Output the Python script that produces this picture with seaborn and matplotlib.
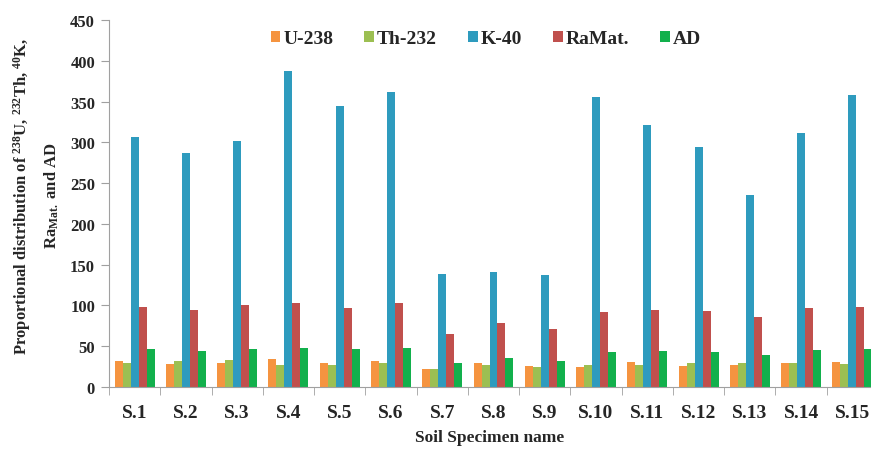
import numpy as np
import pandas as pd
import seaborn as sns
import matplotlib
matplotlib.use("Agg")
from matplotlib import pyplot as plt

# data
specimens = ["S.1", "S.2", "S.3", "S.4", "S.5", "S.6", "S.7", "S.8",
             "S.9", "S.10", "S.11", "S.12", "S.13", "S.14", "S.15"]
u238 = [32, 28, 30, 34, 30, 32, 22.5, 29, 26, 25, 31, 26, 26.5, 29.5, 31]
th232 = [29, 32, 33, 26.5, 27.5, 30, 21.5, 27, 24.5, 27, 27, 30, 29, 29.5, 28]
k40 = [307, 287, 302, 388, 344, 362, 139, 141, 137, 355, 321, 294, 235, 311, 358]
ramat = [97.5, 95, 101, 103, 96.5, 103, 65, 78, 71, 91.5, 94.5, 93.5, 85.5, 96.5, 98.5]
ad = [46, 44, 46.5, 48, 46, 48, 29.5, 35, 32, 43, 44, 43, 39.5, 45, 47]

series = ["U-238", "Th-232", "K-40", "RaMat.", "AD"]
colors = ["#F59440", "#9CBF52", "#2E9BBE", "#C0504D", "#12B04C"]

rows = []
for name, vals in zip(series, [u238, th232, k40, ramat, ad]):
    for s, v in zip(specimens, vals):
        rows.append({"Specimen": s, "Nuclide": name, "Value": v})
df = pd.DataFrame(rows)

sns.set_style("white")
plt.rcParams['font.family'] = ['Liberation Serif', 'DejaVu Serif']
plt.rcParams['font.weight'] = 'bold'
plt.rcParams['mathtext.fontset'] = 'custom'
plt.rcParams['mathtext.rm'] = 'Liberation Serif:bold'
plt.rcParams['mathtext.it'] = 'Liberation Serif:bold'
plt.rcParams['mathtext.bf'] = 'Liberation Serif:bold'

fig = plt.figure(figsize=(8.71, 4.52), dpi=100)
ax = fig.add_axes([109/871, 64/452, 769/871, 367/452])

sns.barplot(data=df, x="Specimen", y="Value", hue="Nuclide", palette=colors,
            width=0.78, saturation=1, ax=ax, edgecolor="none", linewidth=0)

ax.set_ylim(0, 450)
ax.set_xlim(-0.5, 14.5)
ax.set_yticks(np.arange(0, 451, 50))
ax.set_xticks(np.arange(-0.5, 15, 1), minor=True)
ax.tick_params(axis="x", which="major", length=0, pad=12, labelsize=14)
ax.tick_params(axis="x", which="minor", length=6, color="#A0A0A0", direction="out", bottom=True)
ax.tick_params(axis="y", length=6, color="#A0A0A0", direction="out", left=True, labelsize=12, pad=4)
for lab in ax.get_xticklabels() + ax.get_yticklabels():
    lab.set_fontweight("bold")

for side in ["top", "right"]:
    ax.spines[side].set_visible(False)
for side in ["left", "bottom"]:
    ax.spines[side].set_color("#A0A0A0")
    ax.spines[side].set_linewidth(0.8)

ax.set_xlabel("")
ax.set_ylabel("")
fig.text(490/871, 1 - 438/452, "Soil Specimen name", ha="center", va="center",
         fontsize=12.5, fontweight="bold")
fig.text(36/871, 1 - 196/452,
         "Proportional distribution of $^{238}$U, $^{232}$Th, $^{40}$K,\nRa$_{\\mathrm{Mat.}}$ and AD",
         rotation=90, ha="center", va="center", multialignment="center",
         fontsize=12, fontweight="bold", linespacing=1.65)

handles, labels = ax.get_legend_handles_labels()
ax.get_legend().remove()
fig.legend(handles, labels, loc="center", bbox_to_anchor=(486/871, 1 - 40/452),
           ncol=5, frameon=False, prop={"weight": "bold", "size": 14},
           handlelength=0.5, handleheight=0.5, handletextpad=0.15, columnspacing=1.6)

fig.savefig("out.png", dpi=100)
